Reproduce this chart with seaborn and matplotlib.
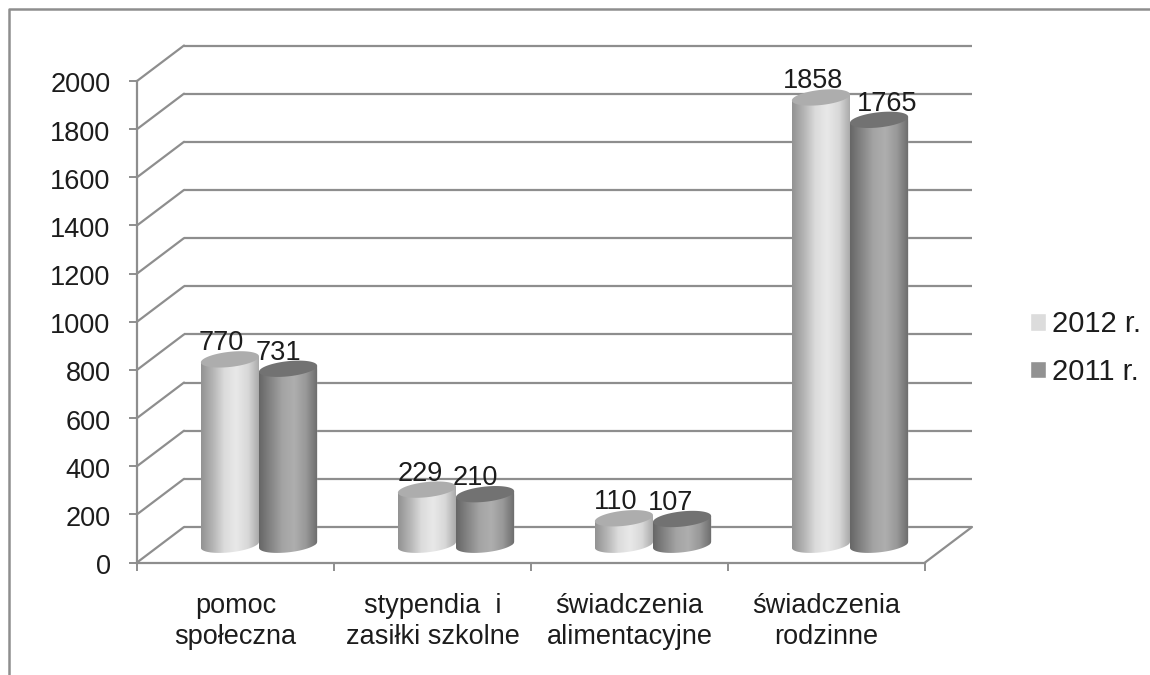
import numpy as np
import pandas as pd
import matplotlib.pyplot as plt
import seaborn as sns
from matplotlib.colors import LinearSegmentedColormap
from matplotlib.lines import Line2D
from matplotlib.path import Path
from matplotlib.transforms import ScaledTranslation

categories = ["pomoc\nspołeczna", "stypendia  i\nzasiłki szkolne",
              "świadczenia\nalimentacyjne", "świadczenia\nrodzinne"]
values_2012 = [770, 229, 110, 1858]
values_2011 = [731, 210, 107, 1765]
years = ["2012 r.", "2011 r."]
y_ticks = list(range(0, 2001, 200))

# horizontal nudge of the value labels, in points
nudge_2012 = [-6, -5, -6, -6]
nudge_2011 = [-7, -7, -8, 6]

LINE = "#8e8e8e"
TEXT = "#1c1c1c"
FONT = 19.5

sns.set_theme(style="white")
plt.rcParams["font.family"] = ["Liberation Sans", "DejaVu Sans"]

df = pd.DataFrame({
    "category": categories * 2,
    "value": values_2012 + values_2011,
    "year": [years[0]] * 4 + [years[1]] * 4,
})

fig = plt.figure(figsize=(11.5, 6.75), dpi=100)
ax = fig.add_axes([137 / 1150, 1 - 562.5 / 675, 788 / 1150, 481.5 / 675])

sns.barplot(data=df, x="category", y="value", hue="year", order=categories,
            hue_order=years, palette=["#dcdcdc", "#929292"], width=0.59,
            saturation=1, ax=ax)

# sizes of the fake 3d box, pixels turned into data units
px_x = 4 / 788
px_y = 2000 / 481.5
depth_x = 47 * px_x
depth_y = 35.5 * px_y
x_left, x_right = -0.5, 3.5
cap_b = 7.6 * px_y
cap_tilt = 3 * px_y

ramps = [
    LinearSegmentedColormap.from_list("light", ["#929292", "#b4b4b4", "#dcdcdc", "#e8e8e8", "#d8d8d8", "#a6a6a6"]),
    LinearSegmentedColormap.from_list("dark", ["#666666", "#858585", "#a4a4a4", "#aeaeae", "#989898", "#6a6a6a"]),
]
cap_colors = ["#adadad", "#727272"]
nudges = [nudge_2012, nudge_2011]
ramp_img = np.linspace(0, 1, 256)[None, :]
t = np.linspace(0, 2 * np.pi, 121)

# walls and floor
ax.hlines([v + depth_y for v in y_ticks], x_left + depth_x, x_right + depth_x,
          color=LINE, lw=1.6, clip_on=False, zorder=1)
for v in y_ticks:
    ax.plot([x_left, x_left + depth_x], [v, v + depth_y], color=LINE, lw=1.6,
            clip_on=False, zorder=1)
ax.plot([x_right, x_right + depth_x], [0, depth_y], color=LINE, lw=1.6,
        clip_on=False, zorder=1)

# cylinders on top of the seaborn bars
for i, container in enumerate(ax.containers):
    for j, bar in enumerate(container):
        w = bar.get_width()
        h = bar.get_height()
        cx = bar.get_x() + w / 2 + depth_x / 2
        base = depth_y / 2
        top_y = base + h
        ex = cx + w / 2 * np.cos(t)
        ey = cap_b * np.sin(t) + cap_tilt * np.cos(t)

        # lower half of the base ellipse, then up to the two ends of the cap
        low = t[60:121]
        low_x = cx + w / 2 * np.cos(low)
        low_y = base + cap_b * np.sin(low) + cap_tilt * np.cos(low)
        body = Path(np.column_stack([
            np.r_[low_x, cx + w / 2, cx - w / 2, low_x[0]],
            np.r_[low_y, top_y + cap_tilt, top_y - cap_tilt, low_y[0]],
        ]))

        bar.set_x(cx - w / 2)
        bar.set_y(base)
        bar.set_zorder(2 + i)
        bar.set_clip_path(body, transform=ax.transData)

        im = ax.imshow(ramp_img, cmap=ramps[i], vmin=0, vmax=1, aspect="auto",
                       extent=[cx - w / 2, cx + w / 2, base - 12 * px_y, top_y + 4 * px_y],
                       zorder=2 + i, interpolation="bilinear")
        im.set_clip_path(body, transform=ax.transData)

        ax.fill(ex, top_y + ey, color=cap_colors[i], lw=0, zorder=2 + i, clip_on=False)

        ax.annotate(str(int(h)), (cx, top_y), xytext=(nudges[i][j], 11.5),
                    textcoords="offset points", ha="center", va="center",
                    fontsize=FONT, color=TEXT, zorder=6, annotation_clip=False)

ax.set_xlim(x_left, x_right)
ax.set_ylim(0, 2000)
ax.set_xlabel("")
ax.set_ylabel("")

sns.despine(ax=ax)
for side in ["left", "bottom"]:
    ax.spines[side].set_color(LINE)
    ax.spines[side].set_linewidth(1.6)

ax.set_yticks(y_ticks)
ax.set_xticks([-0.5, 0.5, 1.5, 2.5, 3.5], labels=[""] * 5)
ax.set_xticks(range(4), labels=categories, minor=True)
ax.tick_params(axis="y", which="major", left=True, length=6, width=1.4, color=LINE,
               labelsize=FONT, labelcolor=TEXT, pad=13)
ax.tick_params(axis="x", which="major", bottom=True, length=6, width=1.4, color=LINE)
ax.tick_params(axis="x", which="minor", bottom=False, length=0, labelsize=FONT,
               labelcolor=TEXT, pad=22)
for lab in ax.get_xticklabels(minor=True):
    lab.set_linespacing(1.25)
for lab in ax.get_yticklabels():
    lab.set_transform(lab.get_transform() + ScaledTranslation(0, -1.5 / 100, fig.dpi_scale_trans))

handles, labels = ax.get_legend_handles_labels()
ax.legend(handles, labels, loc="center left", frameon=False, fontsize=21,
          labelcolor=TEXT, bbox_to_anchor=(1030 / 1150, 1 - 348 / 675),
          bbox_transform=fig.transFigure, handlelength=0.55, handleheight=0.55,
          handletextpad=0.2, labelspacing=0.66, borderpad=0, borderaxespad=0)

# picture frame, open on the right
fig.add_artist(Line2D([8.5 / 1150, 8.5 / 1150, 1], [0, 1 - 9 / 675, 1 - 9 / 675],
                      color=LINE, lw=1.8))

plt.savefig("out.png", dpi=100)
